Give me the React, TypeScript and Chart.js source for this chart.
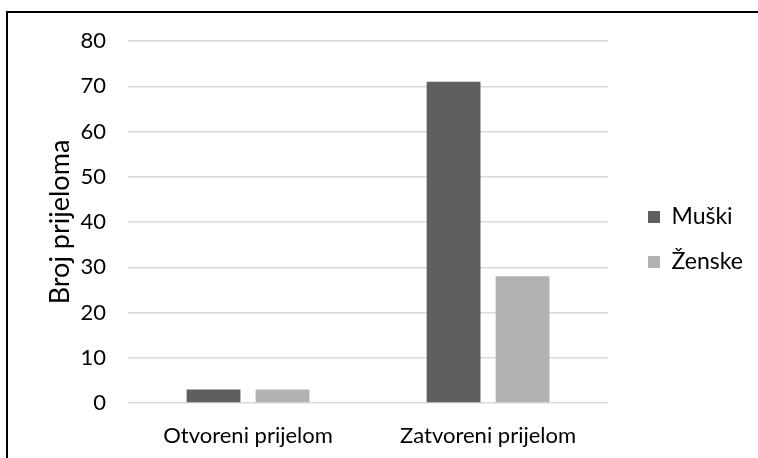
import React, { useEffect, useRef } from "react";
import { Chart, registerables } from "chart.js";

Chart.register(...registerables);

const categories = ["Otvoreni prijelom", "Zatvoreni prijelom"];
const seriesNames = ["Muški", "Ženske"];
const muski = [3, 71];
const zenske = [3, 28];
const yTicks = [0, 10, 20, 30, 40, 50, 60, 70, 80];

const FONT = "Lato, 'Open Sans', sans-serif";
const LEGEND_LEFT = 626;
const LEGEND_SHIFT_Y = -10;

const legendShift = {
  id: "legendShift",
  afterLayout(chart: any) {
    const leg = chart.legend;
    if (!leg) return;
    const dx = LEGEND_LEFT - leg.left;
    leg.left += dx;
    leg.right += dx;
    leg.top += LEGEND_SHIFT_Y;
    leg.bottom += LEGEND_SHIFT_Y;
    if (leg.legendHitBoxes) {
      leg.legendHitBoxes.forEach((b: any) => { b.left += dx; b.top += LEGEND_SHIFT_Y; });
    }
  },
};

export default function App() {
  const ref = useRef<HTMLCanvasElement | null>(null);
  useEffect(() => {
    if (!ref.current) return;
    const chart = new Chart(ref.current, {
      type: "bar",
      data: {
        labels: categories,
        datasets: [
          { label: seriesNames[0], data: muski, backgroundColor: "#5f5f5f", categoryPercentage: 0.575, barPercentage: 0.78 },
          { label: seriesNames[1], data: zenske, backgroundColor: "#b2b2b2", categoryPercentage: 0.575, barPercentage: 0.78 },
        ],
      },
      plugins: [legendShift],
      options: {
        animation: false,
        responsive: false,
        maintainAspectRatio: false,
        layout: { padding: { left: 41, top: 41, right: 23, bottom: 0 } },
        plugins: {
          tooltip: { enabled: false },
          legend: {
            position: "right",
            labels: {
              boxWidth: 12,
              boxHeight: 12,
              padding: 22,
              color: "#000",
              font: { family: FONT, size: 23 },
            },
          },
        },
        scales: {
          x: {
            grid: { display: false, drawTicks: false },
            border: { display: false },
            ticks: { color: "#000", font: { family: FONT, size: 22 }, padding: 20 },
            afterFit: (s: any) => { s.height = 55; },
          },
          y: {
            min: 0,
            max: 80,
            afterBuildTicks: (s: any) => { s.ticks = yTicks.map((v) => ({ value: v })); },
            grid: { color: "#d9d9d9", lineWidth: 1.5, drawTicks: false },
            border: { display: false },
            ticks: { color: "#000", font: { family: FONT, size: 22 }, padding: 22 },
            title: { display: true, text: "Broj prijeloma", color: "#000", font: { family: FONT, size: 27 }, padding: { top: 3, bottom: 0 } },
            afterFit: (s: any) => { s.width = 128 - 41; },
          },
        },
      },
    });
    return () => chart.destroy();
  }, []);
  return (
    <div style={{ position: "absolute", left: 0, top: 0, width: 758, height: 458, background: "#fff", overflow: "hidden" }}>
      <canvas ref={ref} width={758} height={458} style={{ position: "absolute", left: 0, top: 0 }} />
      <div style={{ position: "absolute", left: 6, top: 11, width: 800, height: 500, borderLeft: "2px solid #000", borderTop: "2px solid #000", pointerEvents: "none" }} />
    </div>
  );
}
